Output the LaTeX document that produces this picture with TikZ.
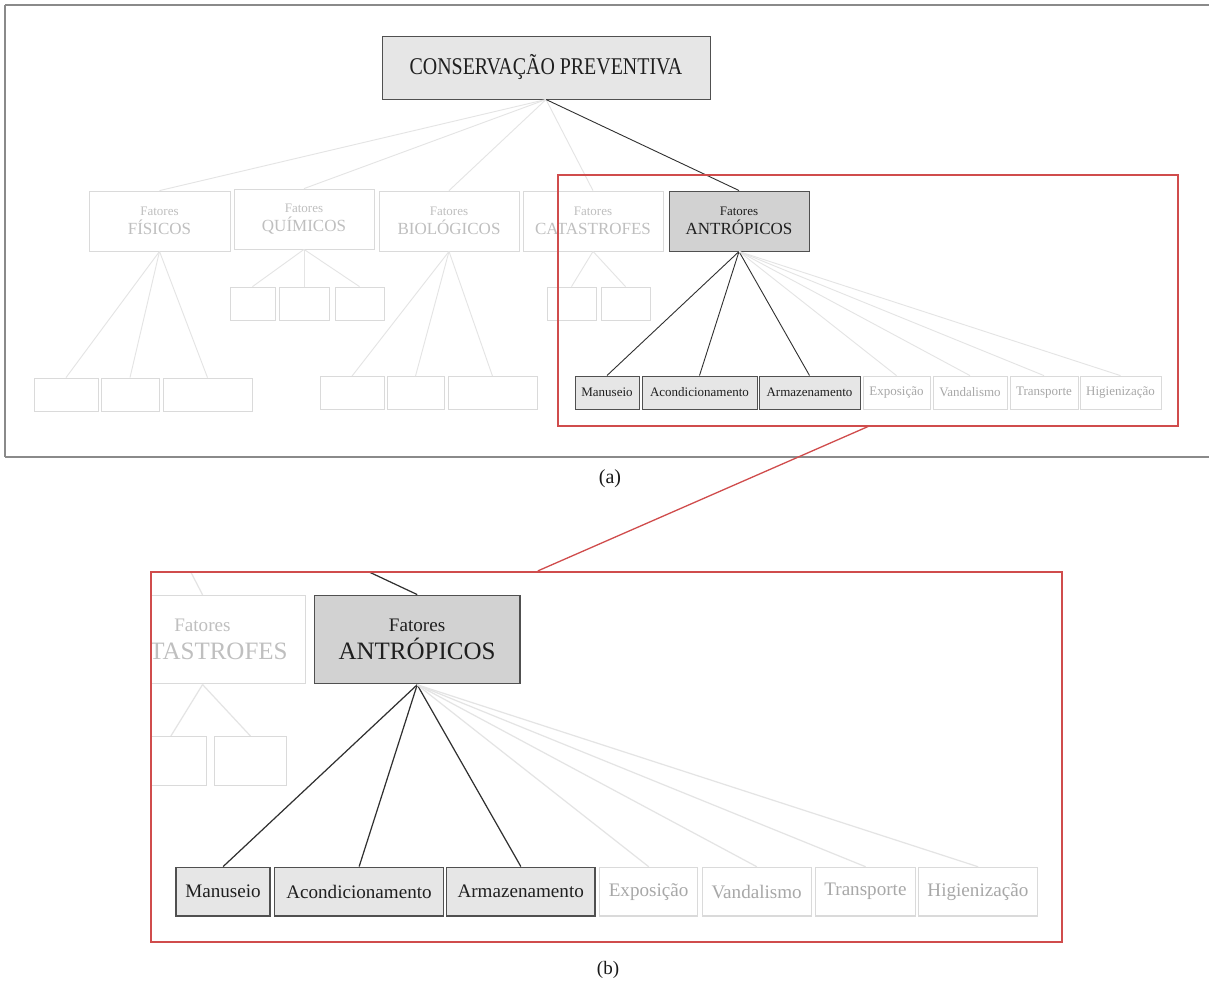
\documentclass[tikz,border=0pt]{standalone}
\usepackage{fontspec}
\setmainfont{Liberation Serif}
\usetikzlibrary{calc}
\definecolor{fline}{HTML}{E4E4E4}
\definecolor{fbord}{HTML}{DADADA}
\definecolor{ftext}{HTML}{BFBFBF}
\definecolor{gtext}{HTML}{A8A8A8}
\definecolor{dbord}{HTML}{505050}
\definecolor{dline}{HTML}{303030}
\definecolor{lfill}{HTML}{E6E6E6}
\definecolor{mfill}{HTML}{D2D2D2}
\definecolor{framec}{HTML}{8A8A8A}
\definecolor{redc}{HTML}{D04C4C}
\def\LW{1}
\tikzset{
  faintbox/.style={draw=fbord, line width={0.8pt*\LW}, inner sep=0pt, text=ftext},
  greybox/.style={faintbox, text=gtext},
  darkbox/.style={draw=dbord, line width={1pt*\LW}, fill=lfill, inner sep=0pt, text=black!88},
  antbox/.style={darkbox, fill=mfill},
  lvtwo/.style={minimum width=140pt, minimum height=60pt, align=center, font=\fontsize{17}{19}\selectfont},
  lvthree/.style={minimum height=33pt, font=\fontsize{13}{15}\selectfont},
  fconn/.style={draw=fline, line width={0.9pt*\LW}},
  dconn/.style={draw=dline, line width={0.9pt*\LW}},
  redbox/.style={draw=redc, inner sep=0pt, fill=none},
  framebox/.style={draw=framec, line width=2.4pt},
  caption/.style={inner sep=0pt, text=black!90},
}
\newcommand\fat{{\fontsize{13}{13}\selectfont Fatores}}
\newcommand\drawtree{%
  % root
  \node[darkbox, minimum width=328pt, minimum height=63pt] (root) at (546,67.5)
    {\scalebox{0.83}[1]{\fontsize{24}{24}\selectfont CONSERVAÇÃO PREVENTIVA}};
  % level two
  \node[faintbox, lvtwo, minimum width=141pt] (fis) at (159.5,221) {\fat\\FÍSICOS};
  \node[faintbox, lvtwo] (qui) at (304,219) {\fat\\QUÍMICOS};
  \node[faintbox, lvtwo] (bio) at (449,221) {\fat\\BIOLÓGICOS};
  \node[faintbox, lvtwo] (cat) at (593,221) {\fat\\CATASTROFES};
  \node[antbox, lvtwo] (ant) at (739,221) {\fat\\ANTRÓPICOS};
  % children of FISICOS
  \node[faintbox, lvthree, minimum width=64pt] (f1) at (66,394.5) {};
  \node[faintbox, lvthree, minimum width=58pt] (f2) at (130,394.5) {};
  \node[faintbox, lvthree, minimum width=89pt] (f3) at (207.5,394.5) {};
  % children of QUIMICOS
  \node[faintbox, lvthree, minimum width=45pt] (q1) at (252.5,303.5) {};
  \node[faintbox, lvthree, minimum width=50pt] (q2) at (304,303.5) {};
  \node[faintbox, lvthree, minimum width=49pt] (q3) at (359.5,303.5) {};
  % children of BIOLOGICOS
  \node[faintbox, lvthree, minimum width=64pt] (b1) at (352,393) {};
  \node[faintbox, lvthree, minimum width=57pt] (b2) at (415.5,393) {};
  \node[faintbox, lvthree, minimum width=89pt] (b3) at (492.5,393) {};
  % children of CATASTROFES
  \node[faintbox, lvthree, minimum width=49pt] (c1) at (571.5,303.5) {};
  \node[faintbox, lvthree, minimum width=49pt] (c2) at (625.5,303.5) {};
  % children of ANTROPICOS
  \node[darkbox, lvthree, minimum width=64pt] (a1) at (607,392.5) {Manuseio};
  \node[darkbox, lvthree, minimum width=115pt] (a2) at (699.5,392.5) {Acondicionamento};
  \node[darkbox, lvthree, minimum width=101pt] (a3) at (809.5,392.5) {Armazenamento};
  \node[greybox, lvthree, minimum width=67pt] (a4) at (896.5,392.5) {Exposição};
  \node[greybox, lvthree, minimum width=74pt] (a5) at (970,392.5) {Vandalismo};
  \node[greybox, lvthree, minimum width=68pt] (a6) at (1044,392.5) {Transporte};
  \node[greybox, lvthree, minimum width=81pt] (a7) at (1120.5,392.5) {Higienização};
  % connectors
  \foreach \t in {fis,qui,bio,cat} {\draw[fconn] (root.south) -- (\t.north);}
  \draw[dconn] (root.south) -- (ant.north);
  \foreach \t in {f1,f2,f3} {\draw[fconn] (fis.south) -- (\t.north);}
  \foreach \t in {q1,q2,q3} {\draw[fconn] (qui.south) -- (\t.north);}
  \foreach \t in {b1,b2,b3} {\draw[fconn] (bio.south) -- (\t.north);}
  \foreach \t in {c1,c2} {\draw[fconn] (cat.south) -- (\t.north);}
  \foreach \t in {a1,a2,a3} {\draw[dconn] (ant.south) -- (\t.north);}
  \foreach \t in {a4,a5,a6,a7} {\draw[fconn] (ant.south) -- (\t.north);}
}
\begin{document}
\begin{tikzpicture}[x=1pt, y=-1pt]
  \useasboundingbox[fill=white] (0,0) rectangle (1209,985);
  % panel (a)
  \drawtree
  \draw[framebox] (5,5) -- (1215,5) (5,457) -- (1215,457) (5,5) -- (5,457);
  \node[redbox, line width=1.1pt, minimum width=620pt, minimum height=251pt] (ra) at (868,300.5) {};
  \node[caption, font=\fontsize{20}{20}\selectfont] (capa) at (610,479) {(a)};
  % panel (b): magnified copy of the red region
  \begin{scope}[shift={(-669.26pt,-314.75pt)}, scale=1.47, transform shape, name prefix=b-]
    \def\LW{1.35}
    \clip (558,175) rectangle (1178,426);
    \drawtree
  \end{scope}
  \node[redbox, line width=2.2pt, minimum width=911pt, minimum height=370pt] (rb) at (606.5,757) {};
  \coordinate (rbtop) at ($(rb.north west)!0.4248!(rb.north east)$);
  \draw[redc, line width=1.3pt] (ra.south) -- (rbtop);
  \node[caption, font=\fontsize{19}{19}\selectfont] (capb) at (608,970) {(b)};
\end{tikzpicture}
\end{document}
